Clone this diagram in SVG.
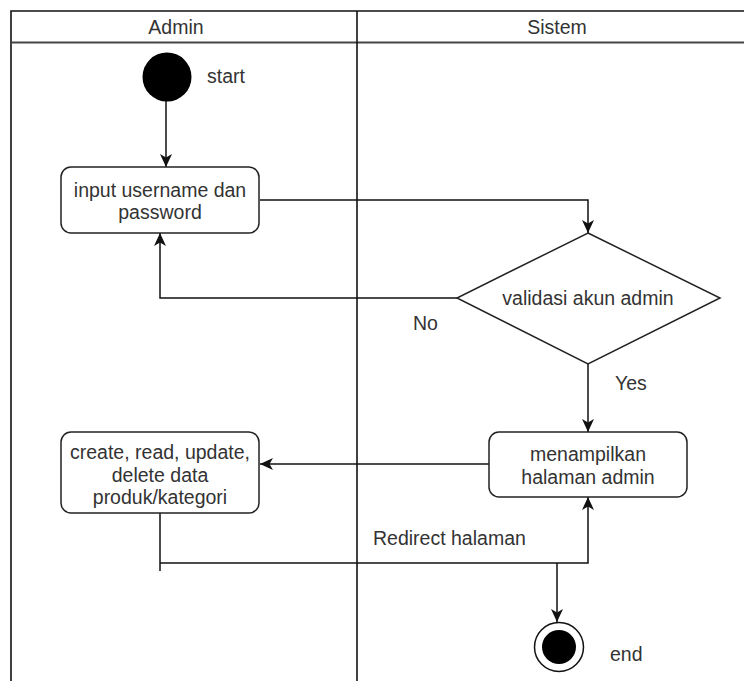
<svg xmlns="http://www.w3.org/2000/svg" width="744" height="681" viewBox="0 0 744 681">
<style>
text{font-family:"Liberation Sans",Arial,sans-serif;font-size:19.5px;fill:#333;}
.c{text-anchor:middle;}
.lane{fill:none;stroke:#111;stroke-width:1.6;}
.box{fill:#fff;stroke:#222;stroke-width:1.5;}
.edge{fill:none;stroke:#111;stroke-width:1.5;}
</style>
<defs>
<marker id="arr" markerUnits="userSpaceOnUse" markerWidth="14" markerHeight="12" viewBox="0 0 14 12" refX="13" refY="6" orient="auto">
<path d="M0,0 L13,6 L0,12 L3.5,6 z" fill="#111"/>
</marker>
</defs>
<rect width="744" height="681" fill="#fff"/>
<g id="swimlanes">
<path class="lane" d="M11,681 V11 H744"/>
<line x1="11" y1="42.5" x2="744" y2="42.5" stroke="#444" stroke-width="2"/>
<line class="lane" x1="357" y1="11" x2="357" y2="681"/>
<text class="c" x="176" y="34">Admin</text>
<text class="c" x="557" y="34">Sistem</text>
</g>
<g id="connectors">
<path class="edge" d="M166,101 V167" marker-end="url(#arr)"/>
<path class="edge" d="M260,200 H588 V233" marker-end="url(#arr)"/>
<path class="edge" d="M457,298 H160 V233" marker-end="url(#arr)"/>
<path class="edge" d="M588,364 V432" marker-end="url(#arr)"/>
<path class="edge" d="M489,464 H260" marker-end="url(#arr)"/>
<path class="edge" d="M160,513 V571 M160,563 H588 V497" marker-end="url(#arr)"/>
<path class="edge" d="M557,563 V622" marker-end="url(#arr)"/>
<text x="413" y="330">No</text>
<text x="615" y="390">Yes</text>
<text x="373" y="545">Redirect halaman</text>
</g>
<g id="start">
<circle cx="167" cy="77" r="24.5" fill="#000"/>
<text x="207" y="83">start</text>
</g>
<g id="input">
<rect class="box" x="61" y="167" width="198" height="66" rx="10"/>
<text class="c" x="160" y="197">input username dan</text>
<text class="c" x="160" y="219">password</text>
</g>
<g id="validasi">
<path class="box" d="M588,233 L720,298 L588,364 L457,298 z"/>
<text class="c" x="588" y="305">validasi akun admin</text>
</g>
<g id="menampilkan">
<rect class="box" x="489" y="432" width="198" height="65" rx="10"/>
<text class="c" x="588" y="461">menampilkan</text>
<text class="c" x="588" y="484">halaman admin</text>
</g>
<g id="crud">
<rect class="box" x="61" y="432" width="198" height="81" rx="10"/>
<text class="c" x="160" y="459">create, read, update,</text>
<text class="c" x="160" y="482">delete data</text>
<text class="c" x="160" y="504">produk/kategori</text>
</g>
<g id="end">
<circle cx="559" cy="647" r="24.5" fill="#fff" stroke="#111" stroke-width="1.5"/>
<circle cx="559" cy="647" r="17" fill="#000"/>
<text x="610" y="661">end</text>
</g>
</svg>
